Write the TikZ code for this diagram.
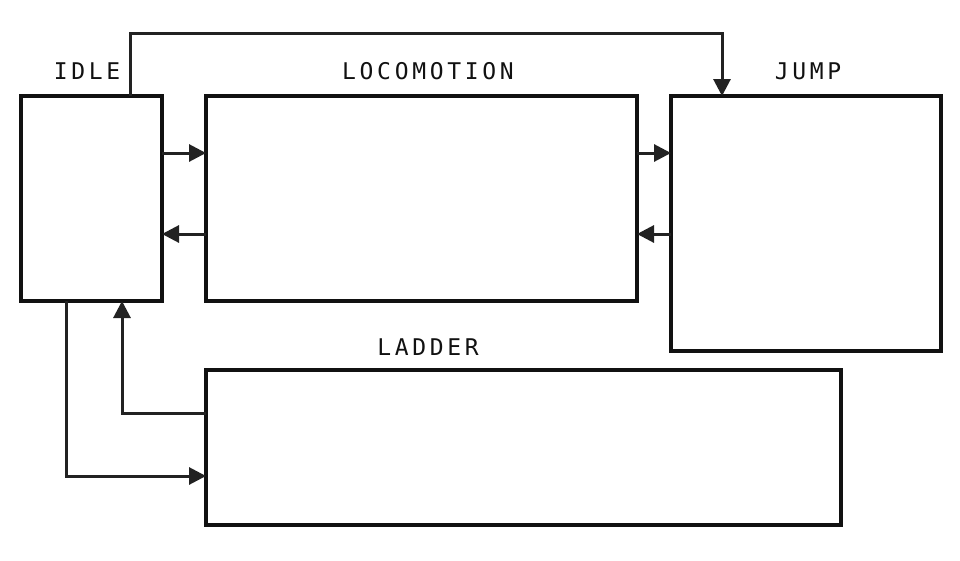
\documentclass[tikz,border=0pt]{standalone}
\usepackage{fontspec}
\newfontfamily\labfont[LetterSpace=16]{DejaVu Sans Mono}
\usetikzlibrary{arrows.meta}
\definecolor{ink}{HTML}{111111}
\definecolor{wire}{HTML}{222222}
\tikzset{
  statebox/.style={draw=ink, line width=3.4pt, fill=white, inner sep=0pt, outer sep=0pt, anchor=north west},
  conn/.style={draw=wire, line width=3pt, -{Triangle[length=17pt,width=17pt]}},
  lab/.style={font=\labfont\fontsize{23}{26}\selectfont, text=ink, inner sep=0pt, anchor=base}
}
\begin{document}
\begin{tikzpicture}[x=1pt,y=-1pt]
\useasboundingbox (0,0) rectangle (960,560);
\fill[white] (0,0) rectangle (960,560);
% boxes
\node[statebox, minimum width=141pt, minimum height=205pt] (idle) at (21,96) {};
\node[statebox, minimum width=431pt, minimum height=205pt] (loco) at (206,96) {};
\node[statebox, minimum width=270pt, minimum height=255pt] (jump) at (671,96) {};
\node[statebox, minimum width=635pt, minimum height=155pt] (ladder) at (206,370) {};
% labels
\node[lab] (lidle) at (87,79) {IDLE};
\node[lab] (lloco) at (428,79) {LOCOMOTION};
\node[lab] (ljump) at (808,79) {JUMP};
\node[lab] (lladder) at (428,355) {LADDER};
% coordinates
\coordinate (i1) at (162,153);
\coordinate (l1) at (206,153);
\coordinate (i2) at (162,234);
\coordinate (l2) at (206,234);
\coordinate (l3) at (637,153);
\coordinate (j3) at (671,153);
\coordinate (l4) at (637,234);
\coordinate (j4) at (671,234);
\coordinate (itop) at (130,96);
\coordinate (jtop) at (722,96);
\coordinate (ibot) at (66,301);
\coordinate (lad1) at (206,476);
\coordinate (lad2) at (206,413);
\coordinate (ibot2) at (122,301);
% connectors
\draw[conn] (i1) -- (l1);
\draw[conn] (l2) -- (i2);
\draw[conn] (l3) -- (j3);
\draw[conn] (j4) -- (l4);
\draw[conn] (itop) -- (130,33) -- (722,33) -- (jtop);
\draw[conn] (ibot) -- (66,476) -- (lad1);
\draw[conn] (lad2) -- (122,413) -- (ibot2);
\end{tikzpicture}
\end{document}
